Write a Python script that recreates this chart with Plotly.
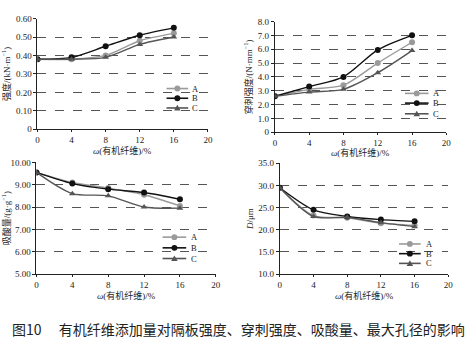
import plotly.graph_objects as go

x_vals = [0, 4, 8, 12, 16]
series_names = ["A", "B", "C"]

strength_A = [0.38, 0.38, 0.40, 0.48, 0.52]
strength_B = [0.38, 0.39, 0.45, 0.51, 0.55]
strength_C = [0.38, 0.38, 0.39, 0.46, 0.50]

puncture_A = [2.6, 3.1, 3.4, 5.0, 6.5]
puncture_B = [2.6, 3.3, 4.0, 5.95, 7.0]
puncture_C = [2.6, 2.9, 3.1, 4.3, 5.9]

acid_A = [9.55, 9.1, 8.85, 8.55, 8.05]
acid_B = [9.55, 9.05, 8.8, 8.65, 8.35]
acid_C = [9.55, 8.6, 8.5, 8.0, 7.95]

pore_A = [29.5, 23.2, 22.7, 21.5, 21.0]
pore_B = [29.5, 24.5, 23.0, 22.3, 21.9]
pore_C = [29.5, 23.0, 22.8, 21.6, 20.7]

x_ticks = [0, 4, 8, 12, 16, 20]
y1_ticks = [0, 0.1, 0.2, 0.3, 0.4, 0.5, 0.6]
y1_labels = ["0", "0.10", "0.20", "0.30", "0.40", "0.50", "0.60"]
y2_ticks = [0, 1, 2, 3, 4, 5, 6, 7, 8]
y2_labels = ["0", "1.0", "2.0", "3.0", "4.0", "5.0", "6.0", "7.0", "8.0"]
y3_ticks = [5, 6, 7, 8, 9, 10]
y3_labels = ["5.00", "6.00", "7.00", "8.00", "9.00", "10.00"]
y4_ticks = [10, 15, 20, 25, 30, 35]
y4_labels = ["10.0", "15.0", "20.0", "25.0", "30.0", "35.0"]
x_title = "<i>ω</i>(有机纤维)/%"

colors = {"A": "#9a9a9a", "B": "#111111", "C": "#555555"}
symbols = {"A": "circle", "B": "circle", "C": "triangle-up"}

SERIF = "Liberation Serif, Noto Sans CJK SC, serif"
CJK = "Liberation Serif, Noto Sans CJK SC"

fig = go.Figure()

panels = [
    ("x", "y", [strength_A, strength_B, strength_C]),
    ("x2", "y2", [puncture_A, puncture_B, puncture_C]),
    ("x3", "y3", [acid_A, acid_B, acid_C]),
    ("x4", "y4", [pore_A, pore_B, pore_C]),
]
for xa, ya, data in panels:
    for name, vals in zip(series_names, data):
        fig.add_trace(go.Scatter(
            x=x_vals, y=vals, name=name, xaxis=xa, yaxis=ya, showlegend=False,
            mode="lines+markers",
            line=dict(color=colors[name], width=1.4, shape="spline", smoothing=0.8),
            marker=dict(color=colors[name], size=6, symbol=symbols[name]),
        ))

W, H = 472, 349
def px(v):
    return v / W
def py(v):
    return 1 - v / H

domains = [
    ((36, 209), (128, 14)),
    ((277, 451), (131, 17)),
    ((35, 217), (277, 162)),
    ((282, 453), (277, 163)),
]
xtitle_y = [150, 152, 299, 299]
yconf = [
    (y1_ticks, y1_labels, [0, 0.6], "强度/(kN·m<sup>−1</sup>)"),
    (y2_ticks, y2_labels, [0, 8], "穿刺强度/(N·mm<sup>−1</sup>)"),
    (y3_ticks, y3_labels, [5, 10], "吸酸量/(g·g<sup>−1</sup>)"),
    (y4_ticks, y4_labels, [10, 35], "<i>D</i>/μm"),
]
layout = {}
for i, ((x0, x1), (yb, yt)) in enumerate(domains):
    sx = "" if i == 0 else str(i + 1)
    tv, tt, rng, title = yconf[i]
    layout["xaxis" + sx] = dict(
        domain=[px(x0), px(x1)], anchor="y" + sx, range=[0, 20],
        tickvals=x_ticks, ticks="outside", ticklen=2, tickcolor="#222",
        showline=True, linecolor="#222", linewidth=1, showgrid=False, zeroline=False,
        tickfont=dict(family=SERIF, size=9, color="#222"),
    )
    layout["yaxis" + sx] = dict(
        domain=[py(yb), py(yt)], anchor="x" + sx, range=rng,
        tickvals=tv, ticktext=tt, ticks="outside", ticklen=3, tickcolor="#222",
        showline=True, linecolor="#222", linewidth=1,
        showgrid=True, gridcolor="#555", griddash="dash", gridwidth=0.8, zeroline=False,
        tickfont=dict(family=SERIF, size=9, color="#222"),
        title=dict(text=title, font=dict(family=CJK, size=9, color="#222"), standoff=3),
    )
    fig.add_annotation(x=px((x0 + x1) / 2), y=py(xtitle_y[i]), xref="paper", yref="paper",
                       xanchor="center", yanchor="middle", text=x_title, showarrow=False,
                       borderpad=0, font=dict(family=CJK, size=9, color="#222"))
fig.update_layout(**layout)

# hand-built compact legends (paper coordinates): line x0, line x1, text x, row ys
legends = [
    (167, 189, 192, [86, 96, 106]),
    (409, 433, 436, [91, 101, 112]),
    (163, 187, 191, [239, 250, 261]),
    (403, 425, 429, [246, 256, 266]),
]
shapes = []
for lx0, lx1, tx, rows in legends:
    for name, ry in zip(series_names, rows):
        c = colors[name]
        shapes.append(dict(type="line", xref="paper", yref="paper",
                           x0=px(lx0), x1=px(lx1), y0=py(ry), y1=py(ry),
                           line=dict(color=c, width=1.6)))
        mx = (lx0 + lx1) / 2
        if symbols[name] == "circle":
            shapes.append(dict(type="circle", xref="paper", yref="paper",
                               x0=px(mx - 3), x1=px(mx + 3), y0=py(ry + 3), y1=py(ry - 3),
                               fillcolor=c, line=dict(color=c, width=0)))
        else:
            path = "M {} {} L {} {} L {} {} Z".format(
                px(mx - 3.3), py(ry + 2.6), px(mx + 3.3), py(ry + 2.6), px(mx), py(ry - 3.2))
            shapes.append(dict(type="path", xref="paper", yref="paper", path=path,
                               fillcolor=c, line=dict(color=c, width=0)))
        fig.add_annotation(x=px(tx), y=py(ry), xref="paper", yref="paper",
                           xanchor="left", yanchor="middle", text=name, showarrow=False,
                           borderpad=0, font=dict(family=SERIF, size=8.5, color="#222"))
fig.update_layout(shapes=shapes)

fig.update_layout(
    width=W, height=H, margin=dict(l=0, r=0, t=0, b=0),
    paper_bgcolor="white", plot_bgcolor="white", showlegend=False,
)
fig.add_annotation(
    x=px(8), y=py(334), xref="paper", yref="paper", xanchor="left", yanchor="middle",
    text="图10　 有机纤维添加量对隔板强度、穿刺强度、吸酸量、最大孔径的影响",
    showarrow=False, font=dict(family="Noto Sans CJK SC", size=14, color="#222"),
)
fig.write_html("out.html")
